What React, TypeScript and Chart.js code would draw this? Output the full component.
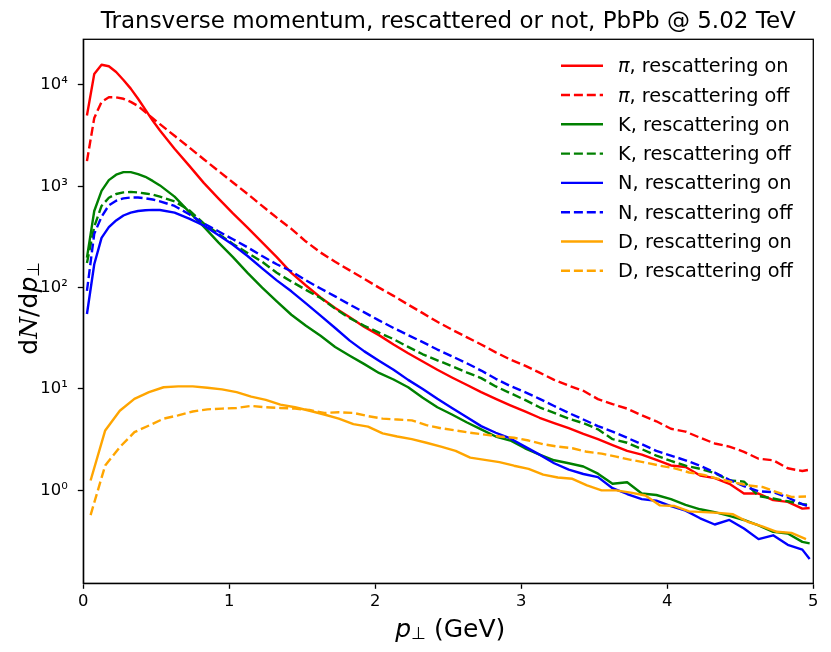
import { useEffect, useRef } from 'react';
import { Chart, registerables } from 'chart.js';

Chart.register(...registerables);

// transverse momentum bins (GeV): pi, K, N use the fine grid, D the coarse one
const ptFine = [
  0.025, 0.075, 0.125, 0.175, 0.225, 0.275, 0.325, 0.375, 0.425, 0.475,
  0.525, 0.625, 0.725, 0.825, 0.925, 1.025, 1.125, 1.225, 1.325, 1.425,
  1.525, 1.625, 1.725, 1.825, 1.925, 2.025, 2.125, 2.225, 2.325, 2.425,
  2.525, 2.625, 2.725, 2.825, 2.925, 3.025, 3.125, 3.225, 3.325, 3.425,
  3.525, 3.625, 3.725, 3.825, 3.925, 4.025, 4.125, 4.225, 4.325, 4.425,
  4.525, 4.625, 4.725, 4.825, 4.925, 4.975,
];
const ptCoarse = [
  0.05, 0.15, 0.25, 0.35, 0.45, 0.55, 0.65, 0.75, 0.85, 0.95,
  1.05, 1.15, 1.25, 1.35, 1.45, 1.55, 1.65, 1.75, 1.85, 1.95,
  2.05, 2.15, 2.25, 2.35, 2.45, 2.55, 2.65, 2.75, 2.85, 2.95,
  3.05, 3.15, 3.25, 3.35, 3.45, 3.55, 3.65, 3.75, 3.85, 3.95,
  4.05, 4.15, 4.25, 4.35, 4.45, 4.55, 4.65, 4.75, 4.85, 4.95,
];

const piOn = [
  5000, 12800, 15800, 15300, 13400, 11200, 9200, 7300, 5700, 4450,
  3550, 2350, 1600, 1080, 760, 540, 390, 280, 200, 140,
  105, 80, 63, 51, 41, 34, 27.5, 22.5, 18.7, 15.5,
  13, 11, 9.3, 8.0, 6.9, 6.0, 5.2, 4.6, 4.1, 3.6,
  3.2, 2.8, 2.45, 2.25, 2.0, 1.76, 1.7, 1.4, 1.32, 1.16,
  0.93, 0.93, 0.8, 0.77, 0.66, 0.67,
];
const piOff = [
  1770, 4720, 6800, 7550, 7550, 7300, 6800, 6200, 5400, 4700,
  4100, 3150, 2420, 1850, 1420, 1090, 840, 640, 490, 380,
  285, 222, 180, 148, 122, 100, 83, 68, 56, 46,
  38.5, 32.5, 27.5, 23, 19.5, 17, 14.5, 12.3, 10.8, 9.6,
  7.95, 7.1, 6.4, 5.5, 4.8, 4.05, 3.8, 3.3, 2.9, 2.7,
  2.4, 2.05, 1.98, 1.65, 1.55, 1.6,
];
const kOn = [
  198, 570, 900, 1150, 1300, 1380, 1380, 1320, 1240, 1130,
  1020, 790, 560, 400, 280, 200, 140, 100, 73, 54,
  42, 33.5, 26, 21.3, 17.6, 14.4, 12.4, 10.4, 8.2, 6.6,
  5.6, 4.7, 4.0, 3.4, 3.1, 2.6, 2.25, 1.98, 1.85, 1.72,
  1.46, 1.16, 1.2, 0.93, 0.9, 0.82, 0.72, 0.65, 0.61, 0.56,
  0.51, 0.45, 0.39, 0.375, 0.31, 0.3,
];
const kOff = [
  175, 400, 640, 770, 840, 870, 880, 870, 850, 830,
  790, 710, 580, 430, 340, 270, 220, 180, 140, 115,
  95, 79, 62, 50, 42, 36, 31, 26, 22, 19.2,
  16.8, 14.6, 12.8, 10.6, 9.1, 7.8, 6.6, 5.8, 5.1, 4.6,
  4.0, 3.2, 2.95, 2.55, 2.2, 1.95, 1.75, 1.63, 1.48, 1.25,
  1.22, 0.88, 0.83, 0.78, 0.73, 0.72,
];
const nOn = [
  55, 170, 310, 395, 460, 515, 550, 570, 580, 585,
  583, 550, 480, 410, 330, 265, 205, 155, 118, 92,
  70, 53, 40, 30, 23.5, 19, 15.5, 12.3, 10, 8.0,
  6.5, 5.3, 4.3, 3.7, 3.25, 2.7, 2.25, 1.85, 1.6, 1.45,
  1.35, 1.05, 0.92, 0.82, 0.79, 0.7, 0.63, 0.53, 0.46, 0.51,
  0.42, 0.33, 0.36, 0.29, 0.26, 0.21,
];
const nOff = [
  93, 340, 500, 650, 720, 760, 775, 775, 760, 740,
  710, 640, 530, 430, 360, 300, 250, 205, 170, 145,
  118, 98, 82, 68, 57, 47.5, 40, 34, 29, 24.5,
  21, 18, 15.2, 12.6, 10.7, 9.3, 8.0, 6.8, 5.8, 5.0,
  4.3, 3.8, 3.3, 2.85, 2.45, 2.2, 1.98, 1.75, 1.5, 1.27,
  1.1, 0.98, 0.96, 0.85, 0.73, 0.69,
];
const dOn = [
  1.25, 3.9, 6.1, 8.0, 9.3, 10.4, 10.6, 10.6, 10.3, 9.9,
  9.3, 8.4, 7.8, 7.0, 6.6, 6.1, 5.6, 5.1, 4.5, 4.25,
  3.65, 3.4, 3.2, 2.95, 2.7, 2.45, 2.1, 2.0, 1.9, 1.75,
  1.63, 1.43, 1.34, 1.3, 1.12, 1.0, 1.0, 0.95, 0.89, 0.71,
  0.7, 0.62, 0.61, 0.6, 0.58, 0.49, 0.44, 0.39, 0.38, 0.33,
];
const dOff = [
  0.57, 1.76, 2.67, 3.75, 4.36, 5.1, 5.5, 6.0, 6.3, 6.4,
  6.5, 6.8, 6.6, 6.5, 6.4, 6.2, 5.8, 5.9, 5.8, 5.4,
  5.1, 5.0, 4.9, 4.4, 4.1, 3.9, 3.7, 3.55, 3.4, 3.3,
  3.1, 2.85, 2.7, 2.6, 2.4, 2.3, 2.15, 2.0, 1.88, 1.75,
  1.65, 1.5, 1.42, 1.3, 1.2, 1.12, 1.08, 0.96, 0.86, 0.87,
];

const xTicks = [0, 1, 2, 3, 4, 5];
const yTicks = [1, 10, 100, 1000, 10000];
const yMin = 0.121;
const yMax = 28200;

const TITLE = 'Transverse momentum, rescattered or not, PbPb @ 5.02 TeV';
const FONT = '"DejaVu Sans", sans-serif';
const LINE_W = 2.4;
const DASH = [9, 3.9];
const SUP = '⁰¹²³⁴⁵⁶⁷⁸⁹';

// plot box in page pixels
const BOX = { left: 83.3, right: 813.3, top: 39.3, bottom: 583.3, width: 831, height: 652 };

type Series = { particle: string; italic: boolean; on: boolean; color: string; x: number[]; y: number[] };

const series: Series[] = [
  { particle: 'π', italic: true, on: true, color: '#ff0000', x: ptFine, y: piOn },
  { particle: 'π', italic: true, on: false, color: '#ff0000', x: ptFine, y: piOff },
  { particle: 'K', italic: false, on: true, color: '#008000', x: ptFine, y: kOn },
  { particle: 'K', italic: false, on: false, color: '#008000', x: ptFine, y: kOff },
  { particle: 'N', italic: false, on: true, color: '#0000ff', x: ptFine, y: nOn },
  { particle: 'N', italic: false, on: false, color: '#0000ff', x: ptFine, y: nOff },
  { particle: 'D', italic: false, on: true, color: '#ffa500', x: ptCoarse, y: dOn },
  { particle: 'D', italic: false, on: false, color: '#ffa500', x: ptCoarse, y: dOff },
];

type Run = { t: string; f: string; dy?: number };

function drawRuns(ctx: CanvasRenderingContext2D, runs: Run[], cx: number, base: number) {
  let total = 0;
  const widths = runs.map((r) => {
    ctx.font = r.f;
    const w = ctx.measureText(r.t).width;
    total += w;
    return w;
  });
  let x = cx - total / 2;
  runs.forEach((r, i) => {
    ctx.font = r.f;
    ctx.fillText(r.t, x, base + (r.dy ?? 0));
    x += widths[i];
  });
}

const decor = {
  id: 'decor',
  afterDraw(chart: Chart) {
    const { ctx, chartArea: a } = chart;
    ctx.save();
    ctx.strokeStyle = '#000';
    ctx.lineWidth = 1.3;
    ctx.setLineDash([]);
    ctx.strokeRect(a.left, a.top, a.right - a.left, a.bottom - a.top);

    ctx.fillStyle = '#000';
    ctx.textAlign = 'left';
    ctx.textBaseline = 'alphabetic';
    const cx = (a.left + a.right) / 2;

    // title
    ctx.font = `23px ${FONT}`;
    ctx.textAlign = 'center';
    ctx.fillText(TITLE, cx, 27.5);
    ctx.textAlign = 'left';

    // x axis label
    drawRuns(ctx, [
      { t: 'p', f: `italic 25px ${FONT}` },
      { t: '⊥', f: `17px ${FONT}`, dy: 2 },
      { t: ' (GeV)', f: `25px ${FONT}` },
    ], cx + 2, 636.7);

    // y axis label
    ctx.save();
    ctx.translate(37, (a.top + a.bottom) / 2 - 3);
    ctx.rotate(-Math.PI / 2);
    drawRuns(ctx, [
      { t: 'd', f: `25px ${FONT}` },
      { t: 'N', f: `italic 25px "DejaVu Serif", serif` },
      { t: '/d', f: `25px ${FONT}` },
      { t: 'p', f: `italic 25px ${FONT}` },
      { t: '⊥', f: `17px ${FONT}`, dy: 2 },
    ], 0, 0);
    ctx.restore();

    // legend
    const lx0 = a.right - 252.3;
    const lx1 = a.right - 210.3;
    const tx = a.right - 195.3;
    series.forEach((s, i) => {
      const y = a.top + 26.4 + 29.3 * i;
      ctx.strokeStyle = s.color;
      ctx.lineWidth = LINE_W;
      ctx.setLineDash(s.on ? [] : DASH);
      ctx.beginPath();
      ctx.moveTo(lx0, y);
      ctx.lineTo(lx1, y);
      ctx.stroke();
      ctx.setLineDash([]);
      let x = tx;
      ctx.font = `${s.italic ? 'italic ' : ''}19.3px ${FONT}`;
      ctx.fillText(s.particle, x, y + 6.5);
      x += ctx.measureText(s.particle).width;
      ctx.font = `19.3px ${FONT}`;
      ctx.fillText(`, rescattering ${s.on ? 'on' : 'off'}`, x, y + 6.5);
    });
    ctx.restore();
  },
};

export default function App() {
  const canvasRef = useRef<HTMLCanvasElement | null>(null);

  useEffect(() => {
    if (!canvasRef.current) return;
    Chart.defaults.font.family = FONT;
    Chart.defaults.color = '#000';

    const datasets = series.map((s, i) => ({
      label: `${s.particle}, rescattering ${s.on ? 'on' : 'off'}`,
      data: s.x.map((x, j) => ({ x, y: s.y[j] })),
      borderColor: s.color,
      backgroundColor: s.color,
      borderWidth: LINE_W,
      borderDash: s.on ? [] : DASH,
      borderJoinStyle: 'round' as const,
      pointRadius: 0,
      tension: 0,
      fill: false,
      order: -i,
    }));

    const axisGrid = {
      display: true,
      drawOnChartArea: false,
      drawTicks: true,
      tickLength: 5.5,
      tickWidth: 1.3,
      tickColor: '#000',
    };

    const chart = new Chart(canvasRef.current, {
      type: 'line',
      data: { datasets },
      options: {
        animation: false,
        responsive: true,
        maintainAspectRatio: false,
        events: [],
        layout: {
          padding: { left: 0, top: BOX.top, right: BOX.width - BOX.right, bottom: 0 },
        },
        plugins: {
          legend: { display: false },
          tooltip: { enabled: false },
          title: { display: false },
        },
        scales: {
          x: {
            type: 'linear',
            min: 0,
            max: 5,
            afterFit: (scale: any) => {
              scale.height = BOX.height - BOX.bottom;
            },
            afterBuildTicks: (scale: any) => {
              scale.ticks = xTicks.map((v) => ({ value: v }));
            },
            ticks: {
              font: { size: 16.4 },
              color: '#000',
              padding: 3.5,
              maxRotation: 0,
              callback: (v: any) => String(v),
            },
            grid: axisGrid,
            border: { display: true, color: '#000', width: 1.3 },
          },
          y: {
            type: 'logarithmic',
            min: yMin,
            max: yMax,
            afterFit: (scale: any) => {
              scale.width = BOX.left;
            },
            afterBuildTicks: (scale: any) => {
              scale.ticks = yTicks.map((v) => ({ value: v }));
            },
            ticks: {
              font: { size: 16.4 },
              color: '#000',
              padding: 10,
              callback: (v: any) => {
                const e = Math.round(Math.log10(Number(v)));
                return '10' + String(e).split('').map((d) => SUP[Number(d)]).join('');
              },
            },
            grid: axisGrid,
            border: { display: true, color: '#000', width: 1.3 },
          },
        },
      },
      plugins: [decor],
    });

    return () => chart.destroy();
  }, []);

  return (
    <div
      style={{
        position: 'absolute',
        left: 0,
        top: 0,
        width: BOX.width,
        height: BOX.height,
        background: '#fff',
      }}
    >
      <canvas ref={canvasRef}></canvas>
    </div>
  );
}
